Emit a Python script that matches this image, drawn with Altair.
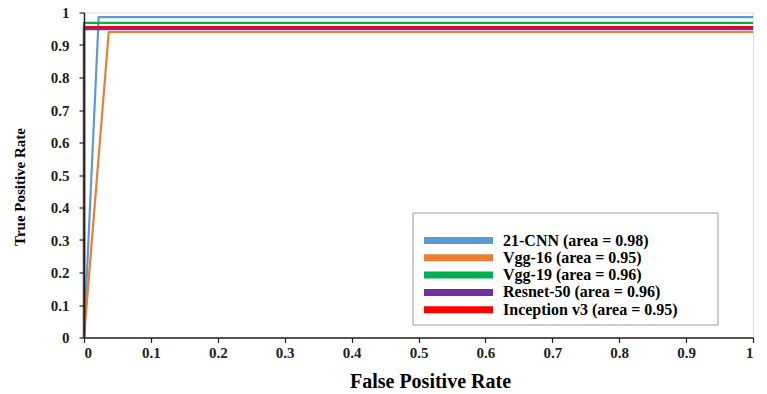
import altair as alt
import pandas as pd

# ROC curves of the five classifiers (false positive rate vs true positive rate)
models = [
    "21-CNN (area = 0.98)",
    "Vgg-16 (area = 0.95)",
    "Vgg-19 (area = 0.96)",
    "Resnet-50 (area = 0.96)",
    "Inception v3 (area = 0.95)",
]
colors = ["#5B9BD5", "#ED7D31", "#00B050", "#7030A0", "#FF0000"]

fpr_21cnn = [0.0, 0.022, 1.0]
tpr_21cnn = [0.0, 0.986, 0.986]
fpr_vgg16 = [0.0, 0.037, 1.0]
tpr_vgg16 = [0.0, 0.940, 0.940]
fpr_vgg19 = [0.0, 0.0, 1.0]
tpr_vgg19 = [0.0, 0.968, 0.968]
fpr_resnet50 = [0.0, 0.0, 1.0]
tpr_resnet50 = [0.0, 0.949, 0.949]
fpr_inception = [0.0, 0.0, 1.0]
tpr_inception = [0.0, 0.955, 0.955]

tick_values = [0.0, 0.1, 0.2, 0.3, 0.4, 0.5, 0.6, 0.7, 0.8, 0.9, 1.0]

curves = [
    (fpr_21cnn, tpr_21cnn),
    (fpr_vgg16, tpr_vgg16),
    (fpr_vgg19, tpr_vgg19),
    (fpr_resnet50, tpr_resnet50),
    (fpr_inception, tpr_inception),
]

rows = []
for name, (fpr, tpr) in zip(models, curves):
    for i, (f, t) in enumerate(zip(fpr, tpr)):
        rows.append({"model": name, "fpr": f, "tpr": t, "step": i})
df = pd.DataFrame(rows)

SERIF = "'Liberation Serif', 'Times New Roman', 'DejaVu Serif', serif"

axis_style = dict(
    values=tick_values,
    format=".1~f",
    grid=False,
    domainColor="#222",
    domainWidth=1.5,
    tickColor="#222",
    tickWidth=1.2,
    tickSize=5,
    labelFont=SERIF,
    labelFontSize=15,
    labelFontWeight="bold",
    labelColor="#222",
    titleFont=SERIF,
    titleFontWeight="bold",
    titleColor="black",
    titleBaseline="alphabetic",
    zindex=1,
)

# framed white box that holds the legend
legend_box = (
    alt.Chart(pd.DataFrame({"box": [0]}))
    .mark_rect(fill="white", stroke="#9a9a9a", strokeWidth=1)
    .encode(
        x=alt.value(329),
        x2=alt.value(634),
        y=alt.value(200.5),
        y2=alt.value(312.5),
    )
)

roc = (
    alt.Chart(df)
    .mark_line(strokeWidth=2.2)
    .encode(
        x=alt.X(
            "fpr:Q",
            scale=alt.Scale(domain=[0, 1], nice=False),
            axis=alt.Axis(
                title="False Positive Rate",
                labelPadding=3,
                titleFontSize=20,
                titleX=346,
                titleY=50,
                **axis_style,
            ),
        ),
        y=alt.Y(
            "tpr:Q",
            scale=alt.Scale(domain=[0, 1], nice=False),
            axis=alt.Axis(
                title="True Positive Rate",
                labelPadding=10,
                titleFontSize=15,
                titleX=-60,
                titleY=174,
                titleAngle=-90,
                titleAlign="center",
                **axis_style,
            ),
        ),
        color=alt.Color(
            "model:N",
            scale=alt.Scale(domain=models, range=colors),
            sort=models,
            legend=alt.Legend(
                title=" ",
                titleFontSize=7,
                titlePadding=2,
                orient="none",
                legendX=329,
                legendY=200,
                padding=11,
                # wide flat swatch, 69px long, starting at the entry's left edge
                symbolType="M-1.7,0L12.1,0",
                symbolSize=100,
                symbolStrokeWidth=7,
                labelFont=SERIF,
                labelFontSize=16,
                labelFontWeight="bold",
                labelColor="black",
                labelOffset=62,
                labelLimit=400,
                clipHeight=16,
                rowPadding=1.3,
            ),
        ),
        order="step:Q",
    )
)

chart = (
    alt.layer(legend_box, roc)
    .properties(
        width=669,
        height=325,
        autosize=alt.AutoSizeParams(type="none"),
        padding={"left": 84, "top": 12.5, "right": 14, "bottom": 56.5},
    )
    .configure_view(stroke="#222", strokeWidth=1.5)
    .configure(background="white")
)

chart.save("out.html", embed_options={"renderer": "svg", "actions": False})
